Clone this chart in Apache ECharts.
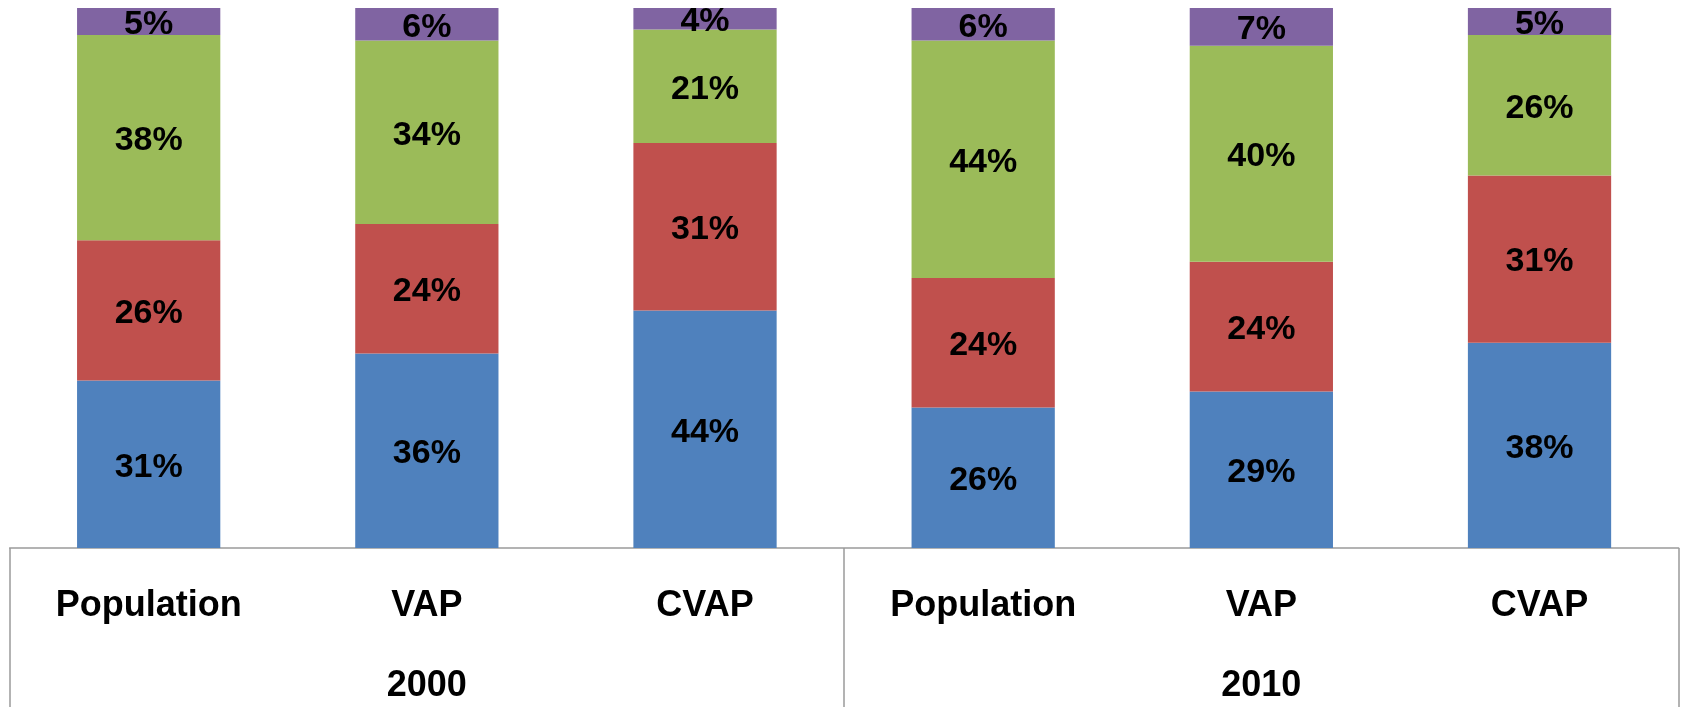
<!DOCTYPE html>
<html>
<head>
<meta charset="utf-8">
<script src="https://cdn.jsdelivr.net/npm/echarts@6/dist/echarts.min.js"></script>
<style>
html,body{margin:0;padding:0;background:#fff;}
#chart{width:1683px;height:707px;}
</style>
</head>
<body>
<div id="chart"></div>
<script>
const categories = ['Population', 'VAP', 'CVAP', 'Population', 'VAP', 'CVAP'];
const years = ['2000', '2010'];
const seriesNames = ['Series 1', 'Series 2', 'Series 3', 'Series 4'];
const blueValues = [31, 36, 44, 26, 29, 38];
const redValues = [26, 24, 31, 24, 24, 31];
const greenValues = [38, 34, 21, 44, 40, 26];
const purpleValues = [5, 6, 4, 6, 7, 5];
const colors = ['#4F81BD', '#C0504D', '#9BBB59', '#8064A2'];

const FONT = '"Liberation Sans", Arial, sans-serif';
const valueSets = [blueValues, redValues, greenValues, purpleValues];

const chart = echarts.init(document.getElementById('chart'));
chart.setOption({
  animation: false,
  backgroundColor: '#ffffff',
  grid: { left: 9.6, right: 4.4, top: 8, bottom: 159, containLabel: false },
  xAxis: [
    {
      type: 'category',
      data: categories,
      position: 'bottom',
      axisLine: { show: true, lineStyle: { color: '#9a9a9a', width: 1.5 } },
      axisTick: { show: false },
      axisLabel: { margin: 40, fontFamily: FONT, fontWeight: 'bold', fontSize: 36, color: '#000', interval: 0 }
    },
    {
      type: 'category',
      data: years,
      position: 'bottom',
      axisLine: { show: false },
      axisTick: { show: true, length: 170, alignWithLabel: false, lineStyle: { color: '#9a9a9a', width: 1.5 } },
      axisLabel: { margin: 120, fontFamily: FONT, fontWeight: 'bold', fontSize: 36, color: '#000', interval: 0 }
    }
  ],
  yAxis: {
    type: 'value', min: 0, max: 100, show: false,
    splitLine: { show: false }
  },
  series: valueSets.map((vals, i) => ({
    name: seriesNames[i],
    type: 'bar',
    stack: 'total',
    xAxisIndex: 0,
    barWidth: '51.5%',
    data: vals,
    itemStyle: { color: colors[i] },
    label: {
      show: true,
      position: 'inside',
      offset: [0, 3],
      formatter: '{c}%',
      fontFamily: FONT,
      fontWeight: 'bold',
      fontSize: 34,
      color: '#000'
    }
  }))
});
</script>
</body>
</html>
